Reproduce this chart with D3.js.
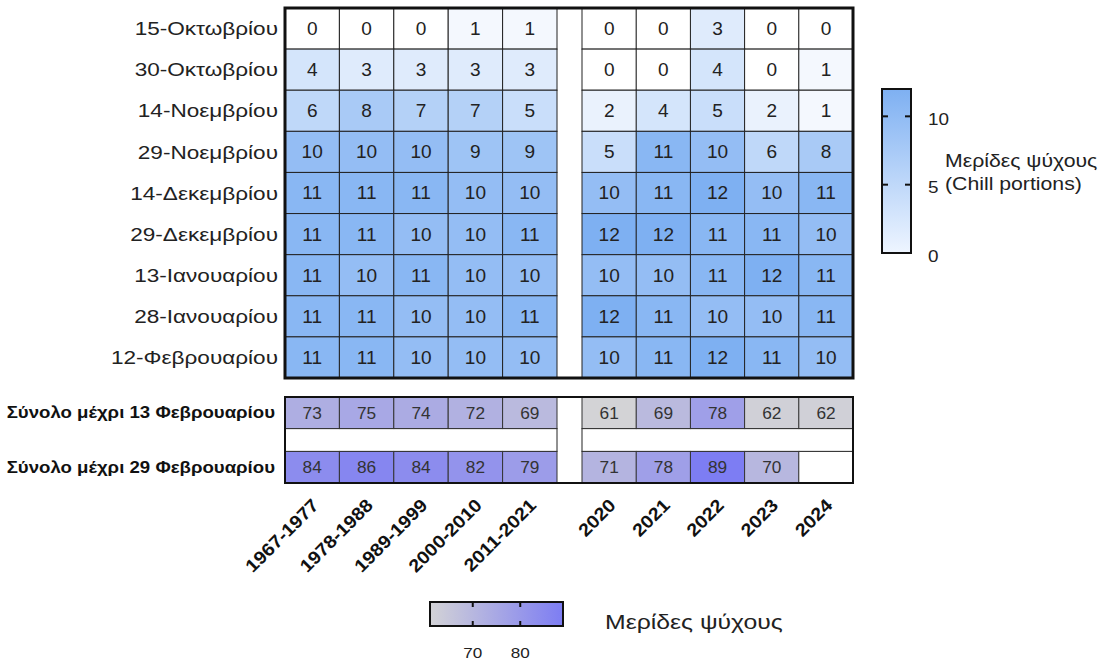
<!DOCTYPE html>
<html>
<head>
<meta charset="utf-8">
<script src="https://cdn.jsdelivr.net/npm/d3@7"></script>
<style>
  body { margin: 0; background: #fff; }
  text { font-family: "Liberation Sans", Arial, sans-serif; }
</style>
</head>
<body>
<div id="chart"></div>
<script>
// row labels (dates) and column labels
const dates = ["15-Οκτωβρίου", "30-Οκτωβρίου", "14-Νοεμβρίου", "29-Νοεμβρίου", "14-Δεκεμβρίου",
    "29-Δεκεμβρίου", "13-Ιανουαρίου", "28-Ιανουαρίου", "12-Φεβρουαρίου"]
const periods = ["1967-1977", "1978-1988", "1989-1999", "2000-2010", "2011-2021"]
const years = ["2020", "2021", "2022", "2023", "2024"]

// chill portions, one row per date (period averages)
const periodChill = [
    [0, 0, 0, 1, 1],
    [4, 3, 3, 3, 3],
    [6, 8, 7, 7, 5],
    [10, 10, 10, 9, 9],
    [11, 11, 11, 10, 10],
    [11, 11, 10, 10, 11],
    [11, 10, 11, 10, 10],
    [11, 11, 10, 10, 11],
    [11, 11, 10, 10, 10]
]
// chill portions, one row per date (single years)
const yearChill = [
    [0, 0, 3, 0, 0],
    [0, 0, 4, 0, 1],
    [2, 4, 5, 2, 1],
    [5, 11, 10, 6, 8],
    [10, 11, 12, 10, 11],
    [12, 12, 11, 11, 10],
    [10, 10, 11, 12, 11],
    [12, 11, 10, 10, 11],
    [10, 11, 12, 11, 10]
]

// totals (periods then years)
const totalLabels = ["Σύνολο μέχρι 13 Φεβρουαρίου", "Σύνολο μέχρι 29 Φεβρουαρίου"]
const total13 = [73, 75, 74, 72, 69, 61, 69, 78, 62, 62]
const total29 = [84, 86, 84, 82, 79, 71, 78, 89, 70, null]

const chillTicks = [0, 5, 10]
const totalTicks = [70, 80]

const W = 1107, H = 667
// the original text looks a bit wider than Arial, so stretch it sideways
const SX = 1.18

const svg = d3.select("#chart")
    .append("svg")
    .attr("width", W)
    .attr("height", H)

// place a text at (x,y) with the horizontal stretch
const place = (x, y, sx = SX) => `translate(${x},${y}) scale(${sx},1)`

// two column groups with a white gap between them
const xLeft = d3.scaleBand().domain(periods).range([285, 557])
const xRight = d3.scaleBand().domain(years).range([582, 853])
const allCols = periods.concat(years)
const colX = c => periods.includes(c) ? xLeft(c) : xRight(c)
const colW = xLeft.bandwidth()

const y = d3.scaleBand().domain(dates).range([8, 378])
const yTot = d3.scaleBand().domain(totalLabels).range([397, 483]).paddingInner(0.42)

// colour scales
const chillColor = d3.scaleLinear().domain([0, 12]).range(["#ffffff", "#7eb0f2"])
const totalColor = d3.scaleLinear().domain([61, 89]).range(["#d3d3d6", "#7d7df3"])

// flatten the heatmap cells
let cells = []
dates.forEach((d, i) => {
    periods.forEach((p, j) => cells.push({ row: d, col: p, v: periodChill[i][j] }))
    years.forEach((p, j) => cells.push({ row: d, col: p, v: yearChill[i][j] }))
})

const heat = svg.append("g")

heat.selectAll("rect")
    .data(cells)
    .join("rect")
    .attr("x", d => colX(d.col))
    .attr("y", d => y(d.row))
    .attr("width", colW)
    .attr("height", y.bandwidth())
    .attr("fill", d => chillColor(d.v))
    .attr("stroke", "#222")
    .attr("stroke-width", 1)

heat.selectAll("text")
    .data(cells)
    .join("text")
    .attr("transform", d => place(colX(d.col) + colW / 2, y(d.row) + y.bandwidth() / 2, 1.06))
    .attr("dy", "0.36em")
    .attr("text-anchor", "middle")
    .attr("font-size", 18)
    .attr("fill", "#222")
    .text(d => d.v)

// thick frame round the heatmap
svg.append("rect")
    .attr("x", 285)
    .attr("y", 8)
    .attr("width", 853 - 285)
    .attr("height", 378 - 8)
    .attr("fill", "none")
    .attr("stroke", "#111")
    .attr("stroke-width", 3)

// row labels
svg.append("g")
    .selectAll("text")
    .data(dates)
    .join("text")
    .attr("transform", d => place(278, y(d) + y.bandwidth() / 2, 1.22))
    .attr("dy", "0.36em")
    .attr("text-anchor", "end")
    .attr("font-size", 18.5)
    .attr("fill", "#222")
    .text(d => d)

// totals block
let totCells = []
allCols.forEach((c, j) => {
    totCells.push({ row: totalLabels[0], col: c, v: total13[j] })
    totCells.push({ row: totalLabels[1], col: c, v: total29[j] })
})

const tot = svg.append("g")

// blank row between the two totals
tot.selectAll("rect.blank")
    .data([xLeft, xRight])
    .join("rect")
    .attr("class", "blank")
    .attr("x", s => s.range()[0])
    .attr("y", yTot(totalLabels[0]) + yTot.bandwidth())
    .attr("width", s => s.range()[1] - s.range()[0])
    .attr("height", yTot(totalLabels[1]) - yTot(totalLabels[0]) - yTot.bandwidth())
    .attr("fill", "#fff")
    .attr("stroke", "#222")
    .attr("stroke-width", 1)

tot.selectAll("rect.cell")
    .data(totCells)
    .join("rect")
    .attr("class", "cell")
    .attr("x", d => colX(d.col))
    .attr("y", d => yTot(d.row))
    .attr("width", colW)
    .attr("height", yTot.bandwidth())
    .attr("fill", d => d.v == null ? "#fff" : totalColor(d.v))
    .attr("stroke", "#333")
    .attr("stroke-width", 1)

tot.selectAll("text")
    .data(totCells.filter(d => d.v != null))
    .join("text")
    .attr("transform", d => place(colX(d.col) + colW / 2, yTot(d.row) + yTot.bandwidth() / 2, 1.08))
    .attr("dy", "0.36em")
    .attr("text-anchor", "middle")
    .attr("font-size", 16)
    .attr("fill", "#333")
    .text(d => d.v)

svg.append("rect")
    .attr("x", 285)
    .attr("y", 397)
    .attr("width", 853 - 285)
    .attr("height", 483 - 397)
    .attr("fill", "none")
    .attr("stroke", "#111")
    .attr("stroke-width", 2)

svg.append("g")
    .selectAll("text")
    .data(totalLabels)
    .join("text")
    .attr("transform", d => place(275, yTot(d) + yTot.bandwidth() / 2))
    .attr("dy", "0.36em")
    .attr("text-anchor", "end")
    .attr("font-size", 15.8)
    .attr("font-weight", "bold")
    .attr("fill", "#111")
    .text(d => d)

// rotated column labels
svg.append("g")
    .selectAll("text")
    .data(allCols)
    .join("text")
    .attr("transform", d => `translate(${colX(d) + colW / 2 - 2},${497}) rotate(-45) scale(1.1,1)`)
    .attr("text-anchor", "end")
    .attr("dy", "0.75em")
    .attr("font-size", 18)
    .attr("font-weight", "bold")
    .attr("fill", "#111")
    .text(d => d)

// vertical legend for chill portions
const defs = svg.append("defs")
const g1 = defs.append("linearGradient")
    .attr("id", "chillGrad")
    .attr("x1", 0).attr("y1", 1).attr("x2", 0).attr("y2", 0)
g1.selectAll("stop")
    .data([0, 12])
    .join("stop")
    .attr("offset", d => d / 12)
    .attr("stop-color", d => d === 0 ? "#eef5ff" : chillColor(d))

const ly = d3.scaleLinear().domain([0, 12]).range([253, 89])
const leg1 = svg.append("g")
leg1.append("rect")
    .attr("x", 882)
    .attr("y", 89)
    .attr("width", 29)
    .attr("height", 253 - 89)
    .attr("fill", "url(#chillGrad)")
    .attr("stroke", "#111")
    .attr("stroke-width", 2)
leg1.selectAll("line.l")
    .data(chillTicks.filter(t => t > 0))
    .join("line")
    .attr("class", "l")
    .attr("x1", 882).attr("x2", 888)
    .attr("y1", d => ly(d)).attr("y2", d => ly(d))
    .attr("stroke", "#111").attr("stroke-width", 2)
leg1.selectAll("line.r")
    .data(chillTicks.filter(t => t > 0))
    .join("line")
    .attr("class", "r")
    .attr("x1", 905).attr("x2", 911)
    .attr("y1", d => ly(d)).attr("y2", d => ly(d))
    .attr("stroke", "#111").attr("stroke-width", 2)
leg1.selectAll("text.tick")
    .data(chillTicks)
    .join("text")
    .attr("class", "tick")
    .attr("transform", d => place(928, ly(d) + 3))
    .attr("dy", "0.36em")
    .attr("font-size", 16)
    .attr("fill", "#222")
    .text(d => d)
leg1.append("text")
    .attr("transform", place(945, 167))
    .attr("font-size", 18).attr("fill", "#222")
    .text("Μερίδες ψύχους")
leg1.append("text")
    .attr("transform", place(945, 190))
    .attr("font-size", 18).attr("fill", "#222")
    .text("(Chill portions)")

// horizontal legend for totals
const g2 = defs.append("linearGradient")
    .attr("id", "totGrad")
    .attr("x1", 0).attr("y1", 0).attr("x2", 1).attr("y2", 0)
g2.selectAll("stop")
    .data(totalColor.domain())
    .join("stop")
    .attr("offset", (d, i) => i)
    .attr("stop-color", d => totalColor(d))

const lx = d3.scaleLinear().domain([61, 89]).range([430, 563])
const leg2 = svg.append("g")
leg2.append("rect")
    .attr("x", 430)
    .attr("y", 602)
    .attr("width", 563 - 430)
    .attr("height", 24)
    .attr("fill", "url(#totGrad)")
    .attr("stroke", "#111")
    .attr("stroke-width", 2)
leg2.selectAll("line.t")
    .data(totalTicks)
    .join("line")
    .attr("class", "t")
    .attr("x1", d => lx(d)).attr("x2", d => lx(d))
    .attr("y1", 602).attr("y2", 607)
    .attr("stroke", "#111").attr("stroke-width", 2)
leg2.selectAll("line.b")
    .data(totalTicks)
    .join("line")
    .attr("class", "b")
    .attr("x1", d => lx(d)).attr("x2", d => lx(d))
    .attr("y1", 621).attr("y2", 626)
    .attr("stroke", "#111").attr("stroke-width", 2)
leg2.selectAll("text.tick")
    .data(totalTicks)
    .join("text")
    .attr("class", "tick")
    .attr("transform", d => place(lx(d), 658))
    .attr("text-anchor", "middle")
    .attr("font-size", 14.5)
    .attr("fill", "#222")
    .text(d => d)
leg2.append("text")
    .attr("transform", place(605, 629))
    .attr("font-size", 21).attr("fill", "#222")
    .text("Μερίδες ψύχους")
</script>
</body>
</html>
